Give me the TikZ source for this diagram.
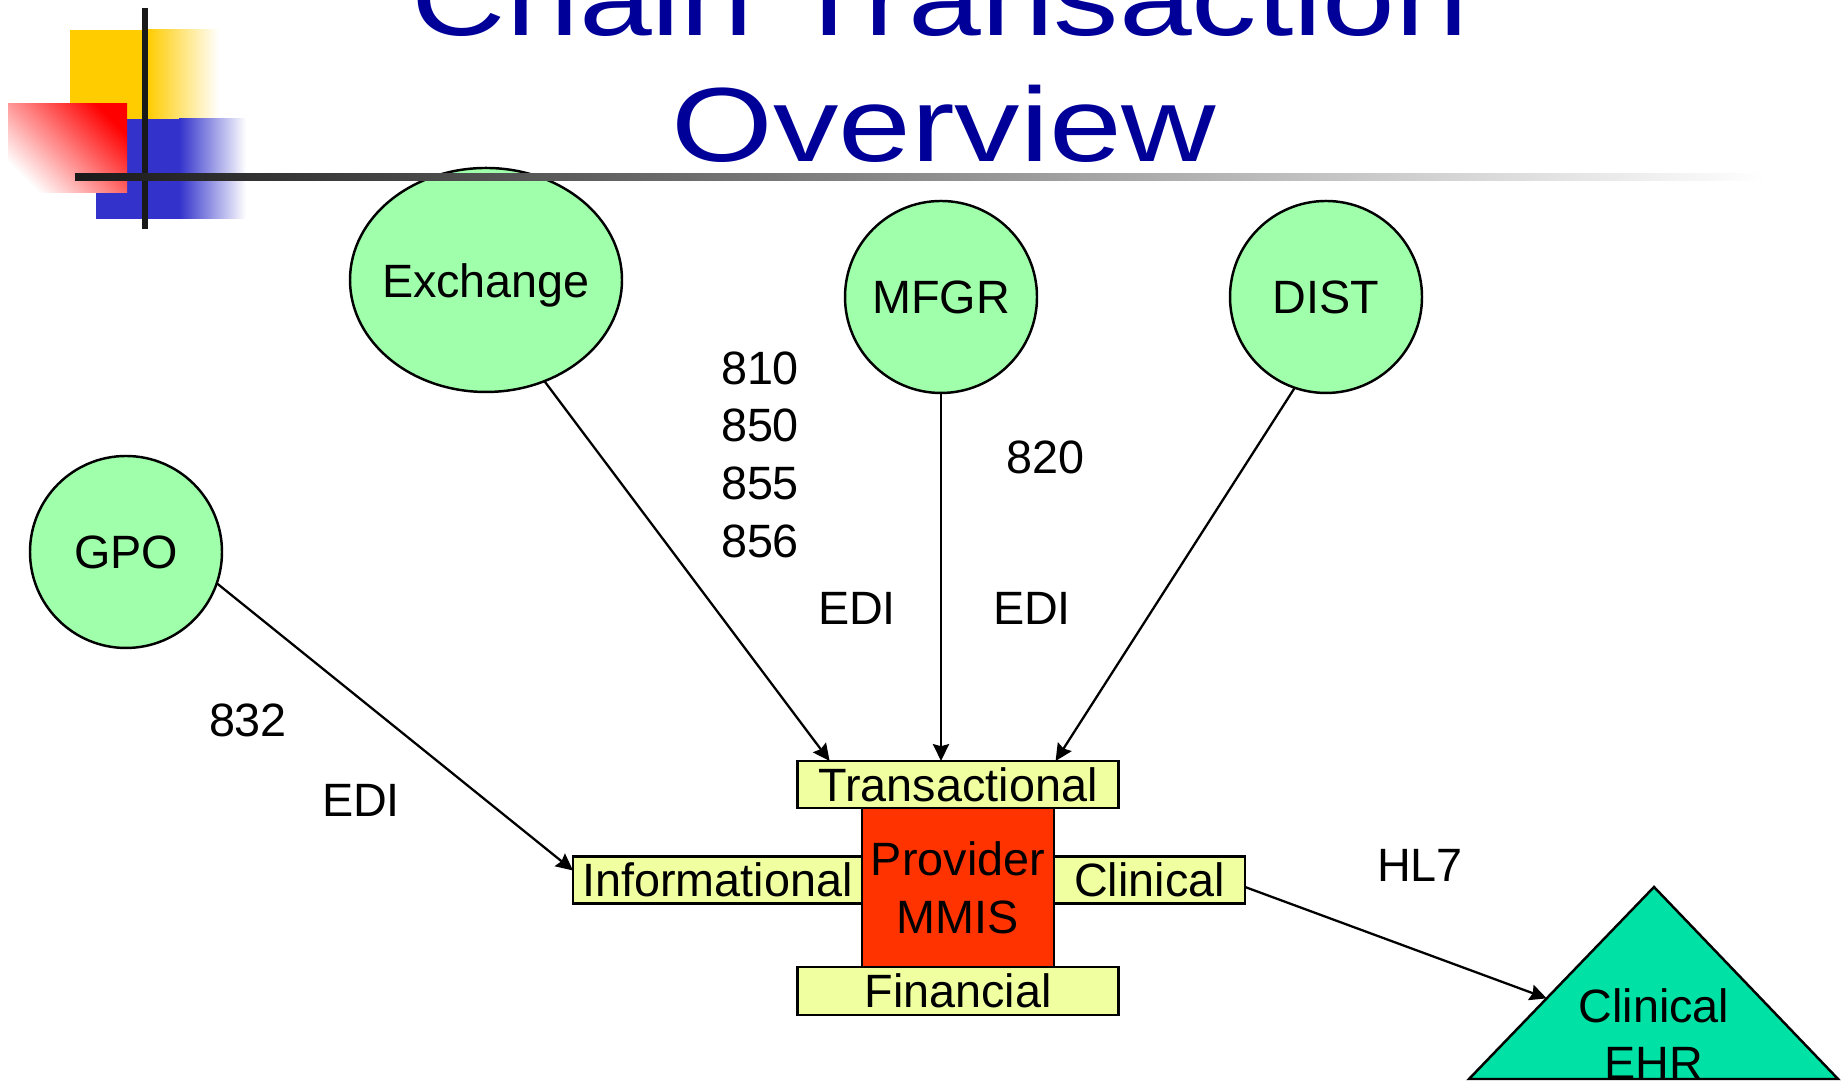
\documentclass[tikz,border=0pt]{standalone}
\usepackage{fontspec}
\setmainfont{Liberation Sans}
\usetikzlibrary{shapes.geometric, arrows.meta, positioning, calc}
\definecolor{nodegreen}{RGB}{160,255,170}
\definecolor{tabyellow}{RGB}{240,255,160}
\definecolor{mmisred}{RGB}{255,51,0}
\definecolor{ehrgreen}{RGB}{0,225,165}
\definecolor{titleblue}{RGB}{0,0,153}
\definecolor{decoyellow}{RGB}{255,204,0}
\definecolor{decoblue}{RGB}{51,51,204}

\begin{document}
\begin{tikzpicture}[
  font=\fontsize{13.3}{16.4}\selectfont,
  bubble/.style={draw, line width=0.7pt, fill=nodegreen, inner sep=0pt, outer sep=0pt},
  tab/.style={draw, line width=0.7pt, fill=tabyellow, inner sep=0pt, outer sep=0pt, minimum height=0.47cm},
  arr/.style={-{Stealth[length=4.8pt, width=4.6pt, inset=0.6pt]}, line width=0.65pt},
  lbl/.style={align=center},
  titletext/.style={titleblue, anchor=base, font=\fontsize{30}{36}\selectfont}
]
  \useasboundingbox (0,0) rectangle (18.45,10.81);
  \clip (0,0) rectangle (18.45,10.81);

  % Trading partners
  \node[bubble, ellipse, minimum width=2.72cm, minimum height=2.24cm, label={[yshift=-0.05cm]center:Exchange}] (exch) at (4.86,8.01) {};
  \node[bubble, circle, minimum size=1.92cm, label=center:MFGR] (mfgr) at (9.41,7.84) {};
  \node[bubble, circle, minimum size=1.92cm, label=center:DIST] (dist) at (13.26,7.84) {};
  \node[bubble, circle, minimum size=1.92cm, label=center:GPO] (gpo) at (1.26,5.29) {};

  % Provider system and its four faces
  \node[draw, line width=0.7pt, fill=mmisred, align=center, inner sep=0pt, outer sep=0pt,
        minimum width=1.92cm, minimum height=1.59cm] (mmis) at (9.58,1.935) {Provider\\MMIS};
  \node[tab, minimum width=3.21cm, above=0pt of mmis] (trans) {Transactional};
  \node[tab, minimum width=3.21cm, below=0pt of mmis, minimum height=0.48cm] (fin) {Financial};
  \node[tab, minimum width=2.89cm, left=0pt of mmis, yshift=0.075cm] (info) {Informational};
  \node[tab, minimum width=1.91cm, right=0pt of mmis, yshift=0.075cm] (clin) {Clinical};

  % Clinical EHR
  \draw[line width=0.7pt, fill=ehrgreen] (14.69,0.02) -- coordinate[pos=0.42] (ehrin) (16.54,1.94) -- (18.38,0.02) -- cycle;
  \node[lbl] (ehr) at (16.54,0.47) {Clinical\\EHR};

  % Message labels
  \node[lbl] (codes) at (7.60,6.265) {810\\850\\855\\856};
  \node (po) at (10.45,6.24) {820};
  \node (edia) at (8.57,4.73) {EDI};
  \node (edib) at (10.32,4.73) {EDI};
  \node (cat) at (2.48,3.61) {832};
  \node (edic) at (3.61,2.81) {EDI};
  \node (hl) at (14.20,2.16) {HL7};

  % Flows
  \draw[arr] (exch.-60) -- ($(trans.north west)!0.1!(trans.north east)$);
  \draw[arr] (mfgr.south) -- (mfgr.south |- trans.north);
  \draw[arr] (dist.251) -- ($(trans.north west)!0.804!(trans.north east)$);
  \draw[arr] (gpo.-19) -- ($(info.west)+(0,0.095)$);
  \draw[arr] ($(clin.east)+(0,-0.07)$) -- (ehrin);

  % Title bar
  \fill[decoyellow] (0.70,9.62) rectangle (1.47,10.51);
  \shade[left color=decoyellow, right color=white] (1.47,9.62) rectangle (2.19,10.51);
  \fill[decoblue] (0.96,8.62) rectangle (1.79,9.62);
  \shade[left color=decoblue, right color=white] (1.79,8.62) rectangle (2.46,9.62);
  \shade[top color=red, bottom color=white, shading angle=-45] (0.08,8.88) rectangle (1.27,9.77);
  \fill[black!90] (1.42,8.52) rectangle (1.48,10.73);
  \shade[left color=black!90, middle color=black!25, right color=white] (0.75,9.005) rectangle (17.65,9.075);
  \node[titletext] (titlea) at (9.40,10.45) {\scalebox{1.24}[1]{Chain Transaction}};
  \node[titletext] (titleb) at (9.44,9.19) {\scalebox{1.24}[1]{Overview}};
\end{tikzpicture}
\end{document}
